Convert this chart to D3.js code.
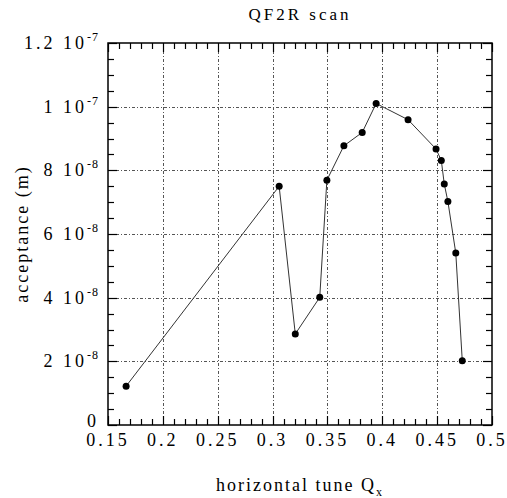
<!DOCTYPE html>
<html>
<head>
<meta charset="utf-8">
<script src="https://cdn.jsdelivr.net/npm/d3@7"></script>
<style>
  body { margin: 0; background: #fff; }
  text { font-family: "Liberation Serif", "Times New Roman", serif; fill: #000; }
</style>
</head>
<body>
<script>
// QF2R scan: acceptance vs horizontal tune
const tuneQx = [0.1665, 0.306, 0.3207, 0.343, 0.3495, 0.365, 0.3817, 0.3944,
                0.4235, 0.449, 0.4538, 0.4565, 0.4598, 0.467, 0.4729];
const acceptance = [1.22e-8, 7.50e-8, 2.86e-8, 4.01e-8, 7.69e-8, 8.77e-8, 9.19e-8, 1.010e-7,
                    9.59e-8, 8.67e-8, 8.31e-8, 7.57e-8, 7.02e-8, 5.40e-8, 2.02e-8];
const xTicks = [0.15, 0.2, 0.25, 0.3, 0.35, 0.4, 0.45, 0.5];
const xTickLabels = ['0.15', '0.2', '0.25', '0.3', '0.35', '0.4', '0.45', '0.5'];
const yTicks = [0, 2e-8, 4e-8, 6e-8, 8e-8, 1e-7, 1.2e-7];
const yTickMant = ['0', '2', '4', '6', '8', '1', '1.2'];
const yTickExp = ['', '-8', '-8', '-8', '-8', '-7', '-7'];

const W = 507, H = 498;
const M = { left: 108, right: 15, top: 43, bottom: 73 };
const iw = W - M.left - M.right;
const ih = H - M.top - M.bottom;

const svg = d3.select('body').append('svg')
    .attr('width', W)
    .attr('height', H);

const x = d3.scaleLinear().domain([0.15, 0.5]).range([0, iw]);
const y = d3.scaleLinear().domain([0, 1.2e-7]).range([ih, 0]);

const g = svg.append('g').attr('transform', `translate(${M.left},${M.top})`);

// grid
const grid = g.append('g')
    .attr('stroke', '#555')
    .attr('stroke-width', 1)
    .attr('stroke-dasharray', '3,2,1,2');
grid.selectAll('.vg').data(xTicks.slice(1, -1)).enter().append('line')
    .attr('x1', d => Math.round(x(d)) + 0.5).attr('x2', d => Math.round(x(d)) + 0.5)
    .attr('y1', 0).attr('y2', ih);
grid.selectAll('.hg').data(yTicks.slice(1, -1)).enter().append('line')
    .attr('y1', d => Math.round(y(d)) + 0.5).attr('y2', d => Math.round(y(d)) + 0.5)
    .attr('x1', 0).attr('x2', iw);

// ticks on all four sides
const minorX = d3.range(15, 51).map(d => d / 100);
const minorY = d3.range(0, 25).map(d => d * 5e-9);
const major = 9, minor = 6;

const tk = g.append('g').attr('stroke', '#000').attr('stroke-width', 1.2);
minorX.forEach(v => {
  const isMaj = Math.abs(v * 20 - Math.round(v * 20)) < 1e-6;
  const len = isMaj ? major : minor;
  const px = Math.round(x(v)) + 0.5;
  tk.append('line').attr('x1', px).attr('x2', px).attr('y1', ih).attr('y2', ih - len);
  tk.append('line').attr('x1', px).attr('x2', px).attr('y1', 0).attr('y2', len);
});
minorY.forEach((v, i) => {
  const len = i % 4 === 0 ? major : minor;
  const py = Math.round(y(v)) + 0.5;
  tk.append('line').attr('y1', py).attr('y2', py).attr('x1', 0).attr('x2', len);
  tk.append('line').attr('y1', py).attr('y2', py).attr('x1', iw).attr('x2', iw - len);
});

// frame
g.append('rect')
    .attr('x', 0).attr('y', 0).attr('width', iw).attr('height', ih)
    .attr('fill', 'none').attr('stroke', '#000').attr('stroke-width', 1.5);

// x tick labels
g.selectAll('.xl').data(xTicks).enter().append('text')
    .attr('x', d => x(d))
    .attr('y', ih + 21)
    .attr('text-anchor', 'middle')
    .style('font-size', '18px')
    .style('letter-spacing', '3px')
    .text((d, i) => xTickLabels[i]);

// y tick labels
const yl = g.selectAll('.yl').data(yTicks).enter().append('text')
    .attr('x', -9)
    .attr('y', (d, i) => y(d) + (i === 0 ? 2 : 6))
    .attr('text-anchor', 'end')
    .style('font-size', '18px')
    .style('letter-spacing', '3px');
yl.append('tspan').text((d, i) => yTickMant[i] === '0' ? '0' : yTickMant[i] + ' 10');
yl.append('tspan')
    .attr('dy', -8)
    .style('font-size', '12px')
    .style('letter-spacing', '1px')
    .text((d, i) => yTickExp[i]);

// title
svg.append('text')
    .attr('x', M.left + iw / 2)
    .attr('y', 20)
    .attr('text-anchor', 'middle')
    .style('font-size', '17px')
    .style('letter-spacing', '3px')
    .text('QF2R scan');

// axis labels
const xlab = svg.append('text')
    .attr('x', M.left + iw / 2)
    .attr('y', 491)
    .attr('text-anchor', 'middle')
    .style('font-size', '18px')
    .style('letter-spacing', '2px');
xlab.append('tspan').text('horizontal tune Q');
xlab.append('tspan').attr('dy', 5).style('font-size', '12px').text('x');

svg.append('text')
    .attr('transform', `translate(28,${M.top + ih / 2}) rotate(-90)`)
    .attr('text-anchor', 'middle')
    .style('font-size', '18px')
    .style('letter-spacing', '2px')
    .text('acceptance (m)');

// data
const pts = tuneQx.map((q, i) => [q, acceptance[i]]);
g.append('path')
    .datum(pts)
    .attr('fill', 'none')
    .attr('stroke', '#333')
    .attr('stroke-width', 1)
    .attr('d', d3.line().x(d => x(d[0])).y(d => y(d[1])));

g.selectAll('.pt').data(pts).enter().append('circle')
    .attr('cx', d => x(d[0]))
    .attr('cy', d => y(d[1]))
    .attr('r', 3.5)
    .attr('fill', '#000');
</script>
</body>
</html>
